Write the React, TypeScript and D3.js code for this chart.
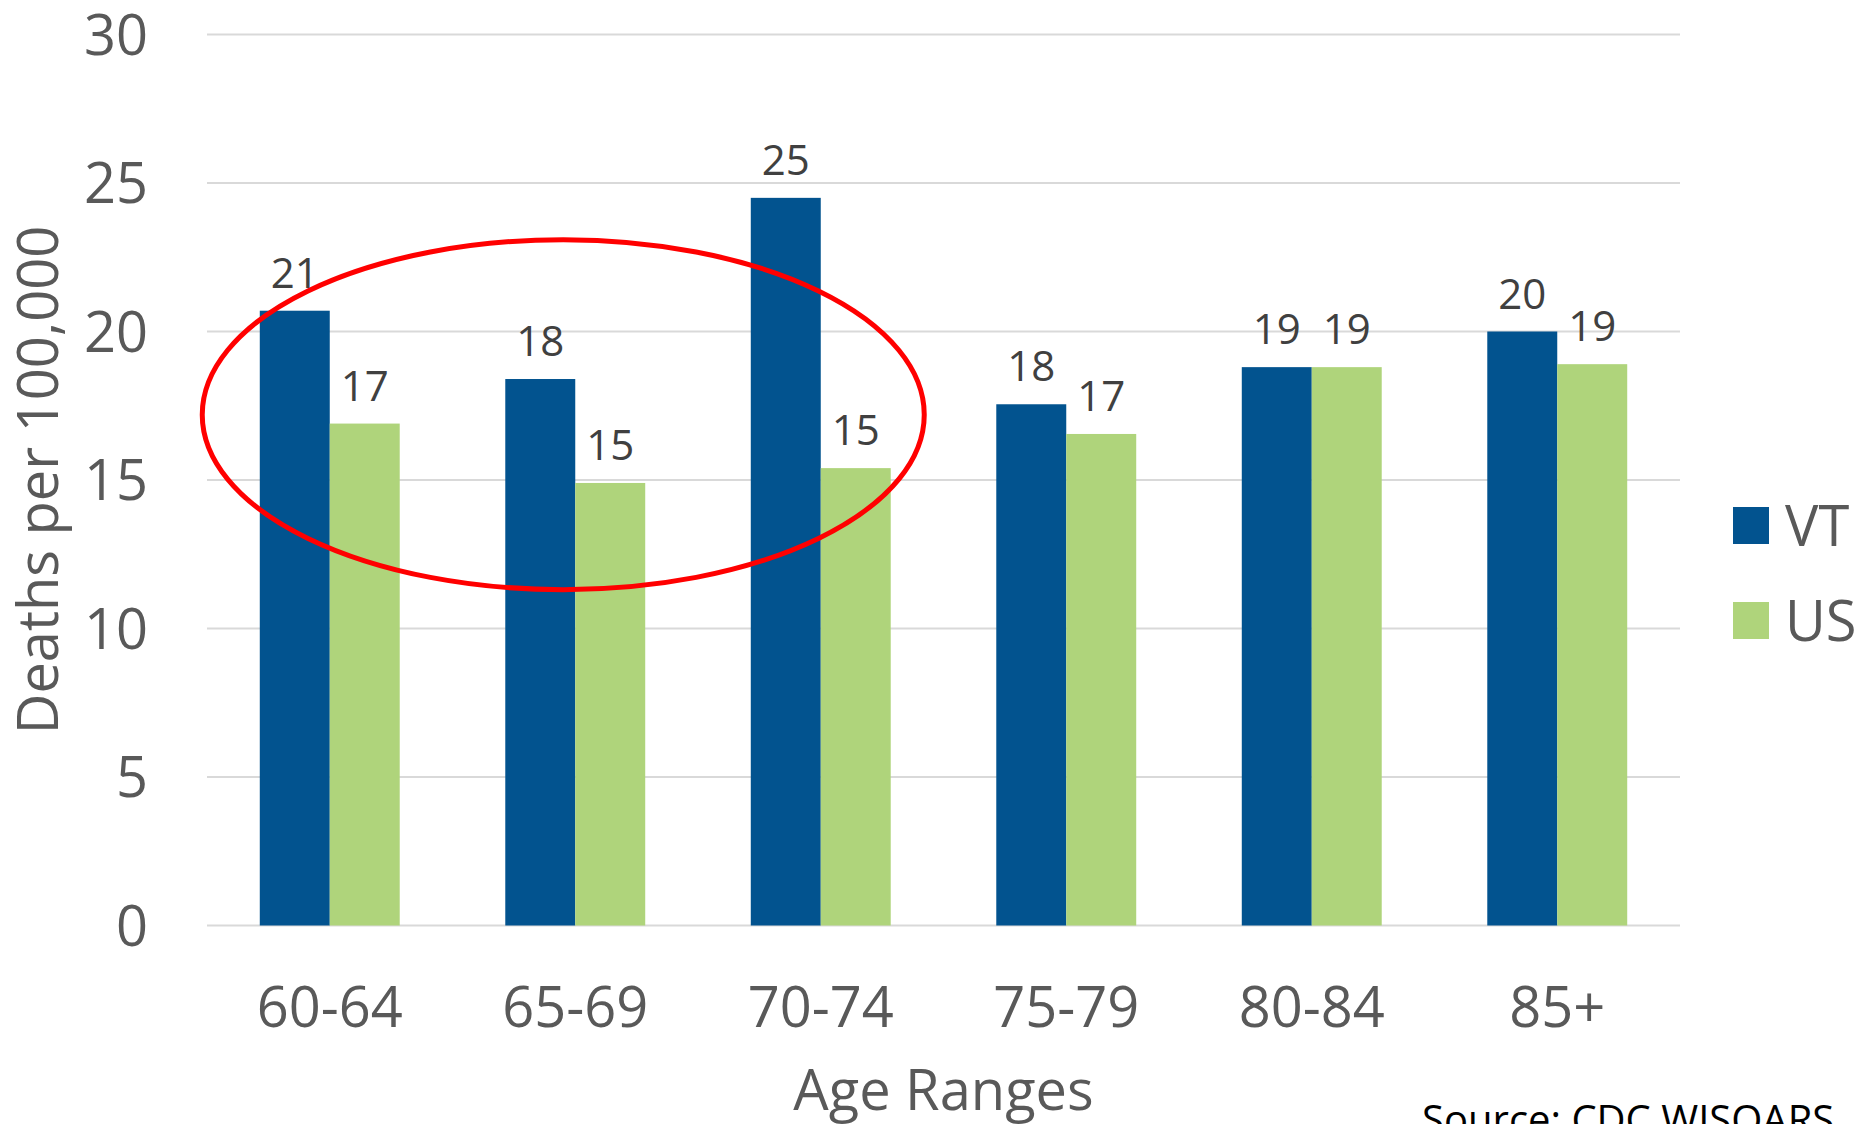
import { useEffect, useRef } from "react";
import * as d3 from "d3";

const categories = ["60-64", "65-69", "70-74", "75-79", "80-84", "85+"];
const seriesNames = ["VT", "US"];
const vtValues = [20.7, 18.4, 24.5, 17.55, 18.8, 20.0];
const usValues = [16.9, 14.9, 15.4, 16.55, 18.8, 18.9];
const yTicks = [0, 5, 10, 15, 20, 25, 30];
const colors = ["#02538f", "#afd47b"];

const WIDTH = 1858;
const HEIGHT = 1124;
const FONT = "'Open Sans', 'Noto Sans', sans-serif";

export default function App() {
  const svgRef = useRef<SVGSVGElement | null>(null);

  useEffect(() => {
    if (!svgRef.current) return;
    const svg = d3.select(svgRef.current);
    svg.selectAll("*").remove();

    // plot area
    const left = 207;
    const right = 1680;
    const top = 34.5;
    const bottom = 925.5;

    const x = d3
      .scaleBand<string>()
      .domain(categories)
      .range([left, right])
      .paddingInner(0.43)
      .paddingOuter(0.215);
    const xs = d3
      .scaleBand<string>()
      .domain(seriesNames)
      .range([0, x.bandwidth()]);
    const y = d3.scaleLinear().domain([0, 30]).range([bottom, top]);

    // gridlines
    svg
      .append("g")
      .selectAll("line")
      .data(yTicks)
      .join("line")
      .attr("x1", left)
      .attr("x2", right)
      .attr("y1", (d) => y(d))
      .attr("y2", (d) => y(d))
      .attr("stroke", "#d9d9d9")
      .attr("stroke-width", 2);

    // y tick labels
    svg
      .append("g")
      .selectAll("text")
      .data(yTicks)
      .join("text")
      .attr("x", 148)
      .attr("y", (d) => y(d))
      .attr("dy", "0.36em")
      .attr("text-anchor", "end")
      .attr("font-family", FONT)
      .attr("font-size", 56)
      .attr("fill", "#595959")
      .text((d) => d);

    const rows = categories.map((c, i) => ({
      cat: c,
      vals: [vtValues[i], usValues[i]],
    }));

    // bars
    const groups = svg
      .append("g")
      .selectAll("g")
      .data(rows)
      .join("g")
      .attr("transform", (d) => `translate(${x(d.cat)},0)`);

    groups
      .selectAll("rect")
      .data((d) => d.vals.map((v, j) => ({ v, s: seriesNames[j], j })))
      .join("rect")
      .attr("x", (d) => xs(d.s)!)
      .attr("width", xs.bandwidth())
      .attr("y", (d) => y(d.v))
      .attr("height", (d) => y(0) - y(d.v))
      .attr("fill", (d) => colors[d.j]);

    // data labels
    groups
      .selectAll("text")
      .data((d) => d.vals.map((v, j) => ({ v, s: seriesNames[j] })))
      .join("text")
      .attr("x", (d) => xs(d.s)! + xs.bandwidth() / 2)
      .attr("y", (d) => y(d.v) - 23)
      .attr("text-anchor", "middle")
      .attr("font-family", FONT)
      .attr("font-size", 42)
      .attr("fill", "#404040")
      .text((d) => Math.round(d.v));

    // x labels
    svg
      .append("g")
      .selectAll("text")
      .data(categories)
      .join("text")
      .attr("x", (d) => x(d)! + x.bandwidth() / 2)
      .attr("y", 1027)
      .attr("text-anchor", "middle")
      .attr("font-family", FONT)
      .attr("font-size", 56)
      .attr("fill", "#595959")
      .text((d) => d);

    // axis titles
    svg
      .append("text")
      .attr("x", (left + right) / 2)
      .attr("y", 1110)
      .attr("text-anchor", "middle")
      .attr("font-family", FONT)
      .attr("font-size", 56)
      .attr("fill", "#595959")
      .text("Age Ranges");

    svg
      .append("text")
      .attr("transform", `translate(58,${(top + bottom) / 2}) rotate(-90)`)
      .attr("text-anchor", "middle")
      .attr("font-family", FONT)
      .attr("font-size", 56)
      .attr("fill", "#595959")
      .text("Deaths per 100,000");

    // legend
    const legend = svg
      .append("g")
      .selectAll("g")
      .data(seriesNames)
      .join("g")
      .attr("transform", (_d, i) => `translate(1733,${507 + i * 95})`);
    legend
      .append("rect")
      .attr("width", 36)
      .attr("height", 37)
      .attr("fill", (_d, i) => colors[i]);
    legend
      .append("text")
      .attr("x", 52)
      .attr("y", 18.5)
      .attr("dy", "0.36em")
      .attr("font-family", FONT)
      .attr("font-size", 56)
      .attr("fill", "#595959")
      .text((d) => d);

    // source note
    svg
      .append("text")
      .attr("x", 1422)
      .attr("y", 1134)
      .attr("font-family", FONT)
      .attr("font-size", 40)
      .attr("fill", "#000000")
      .text("Source: CDC WISQARS");

    // red highlight ellipse around the first three groups
    svg
      .append("ellipse")
      .attr("cx", x("65-69")! + x.bandwidth() / 2 - 12)
      .attr("cy", y(17.2))
      .attr("rx", 361)
      .attr("ry", 175)
      .attr("fill", "none")
      .attr("stroke", "#ff0000")
      .attr("stroke-width", 5);
  }, []);

  return (
    <svg
      ref={svgRef}
      width={WIDTH}
      height={HEIGHT}
      style={{ position: "absolute", left: 0, top: 0, display: "block", background: "#fff" }}
    />
  );
}
